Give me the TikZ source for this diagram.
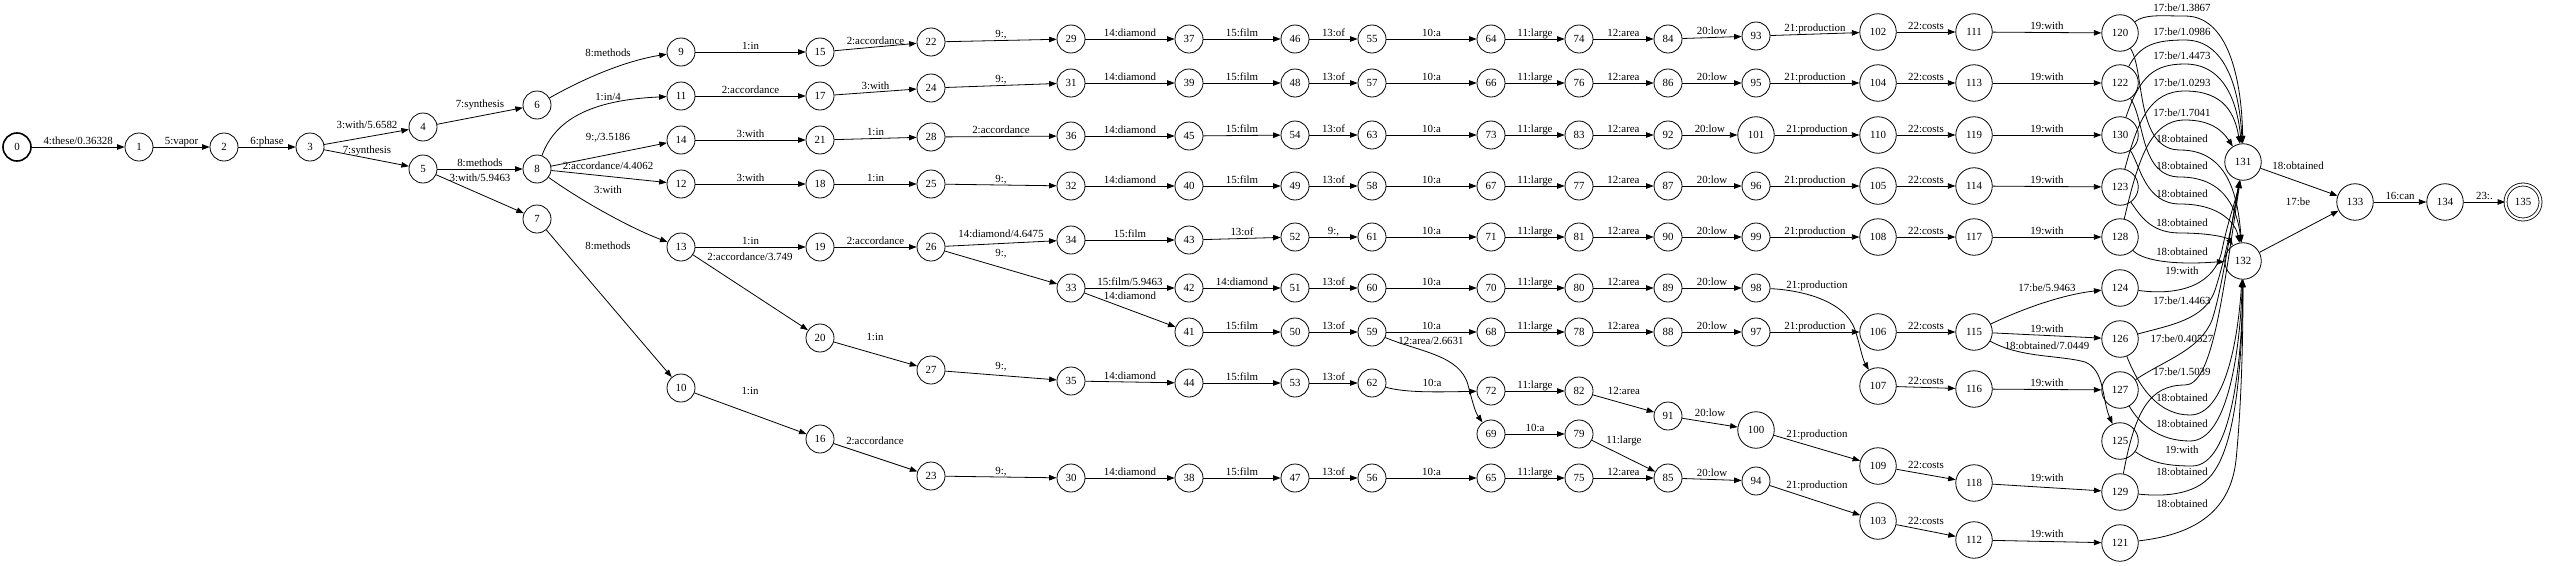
\documentclass[tikz,border=0pt]{standalone}
\usepackage{fontspec}
\setmainfont{Liberation Serif}
\usetikzlibrary{arrows.meta}
\newcommand{\lblfont}{\fontsize{10.9pt}{12pt}\selectfont}
\begin{document}
\begin{tikzpicture}[x=1pt,y=-1pt,
 st/.style={circle,draw,line width=0.8pt,minimum size=28pt,inner sep=0pt,font=\lblfont},
 stw/.style={st,minimum size=36.5pt},
 e/.style={draw,line width=0.8pt,-{Triangle[length=7.5pt,width=5.5pt]}},
 lab/.style={font=\lblfont,inner sep=0.6pt,text height=7.5pt,text depth=2pt},
 ml/.style={lab,midway,above}]
\useasboundingbox (0,0) rectangle (2550,565);
% ---------------- nodes
\node[st,line width=1.6pt] (n0) at (17,147) {0};
\node[st] (n1) at (139,147) {1};
\node[st] (n2) at (224,147) {2};
\node[st] (n3) at (310,147) {3};
\node[st] (n4) at (423,127) {4};
\node[st] (n5) at (423,169) {5};
\node[st] (n6) at (537,105) {6};
\node[st] (n8) at (537,169) {8};
\node[st] (n7) at (537,219) {7};
\node[st] (n9) at (681,52) {9};
\node[st] (n11) at (681,96) {11};
\node[st] (n14) at (681,140) {14};
\node[st] (n12) at (681,184) {12};
\node[st] (n13) at (681,247) {13};
\node[st] (n10) at (681,388) {10};
\node[st] (n15) at (820,52) {15};
\node[st] (n17) at (820,96) {17};
\node[st] (n21) at (820,140) {21};
\node[st] (n18) at (820,184) {18};
\node[st] (n19) at (820,247) {19};
\node[st] (n20) at (820,338) {20};
\node[st] (n16) at (820,439) {16};
\node[st] (n22) at (931,42) {22};
\node[st] (n24) at (931,88) {24};
\node[st] (n28) at (931,137) {28};
\node[st] (n25) at (931,184) {25};
\node[st] (n26) at (931,247) {26};
\node[st] (n27) at (931,370) {27};
\node[st] (n23) at (931,476) {23};
\node[st] (n29) at (1071,39) {29};
\node[st] (n31) at (1071,83) {31};
\node[st] (n36) at (1071,136) {36};
\node[st] (n32) at (1071,186) {32};
\node[st] (n34) at (1071,240) {34};
\node[st] (n33) at (1071,288) {33};
\node[st] (n35) at (1071,381) {35};
\node[st] (n30) at (1071,478) {30};
\node[st] (n37) at (1189,39) {37};
\node[st] (n39) at (1189,83) {39};
\node[st] (n45) at (1189,136) {45};
\node[st] (n40) at (1189,186) {40};
\node[st] (n43) at (1189,240) {43};
\node[st] (n42) at (1189,288) {42};
\node[st] (n41) at (1189,332) {41};
\node[st] (n44) at (1189,383) {44};
\node[st] (n38) at (1189,478) {38};
\node[st] (n46) at (1295,39) {46};
\node[st] (n48) at (1295,83) {48};
\node[st] (n54) at (1295,135) {54};
\node[st] (n49) at (1295,186) {49};
\node[st] (n52) at (1295,237) {52};
\node[st] (n51) at (1295,288) {51};
\node[st] (n50) at (1295,332) {50};
\node[st] (n53) at (1295,383) {53};
\node[st] (n47) at (1295,478) {47};
\node[st] (n55) at (1372,39) {55};
\node[st] (n57) at (1372,83) {57};
\node[st] (n63) at (1372,135) {63};
\node[st] (n58) at (1372,186) {58};
\node[st] (n61) at (1372,237) {61};
\node[st] (n60) at (1372,288) {60};
\node[st] (n59) at (1372,332) {59};
\node[st] (n62) at (1372,383) {62};
\node[st] (n56) at (1372,478) {56};
\node[st] (n64) at (1491,39) {64};
\node[st] (n66) at (1491,83) {66};
\node[st] (n73) at (1491,135) {73};
\node[st] (n67) at (1491,186) {67};
\node[st] (n71) at (1491,237) {71};
\node[st] (n70) at (1491,288) {70};
\node[st] (n68) at (1491,332) {68};
\node[st] (n72) at (1491,391) {72};
\node[st] (n69) at (1491,434) {69};
\node[st] (n65) at (1491,478) {65};
\node[st] (n74) at (1579,39) {74};
\node[st] (n76) at (1579,83) {76};
\node[st] (n83) at (1579,135) {83};
\node[st] (n77) at (1579,186) {77};
\node[st] (n81) at (1579,237) {81};
\node[st] (n80) at (1579,288) {80};
\node[st] (n78) at (1579,332) {78};
\node[st] (n82) at (1579,391) {82};
\node[st] (n79) at (1579,434) {79};
\node[st] (n75) at (1579,478) {75};
\node[st] (n84) at (1668,39) {84};
\node[st] (n86) at (1668,83) {86};
\node[st] (n92) at (1668,135) {92};
\node[st] (n87) at (1668,186) {87};
\node[st] (n90) at (1668,237) {90};
\node[st] (n89) at (1668,288) {89};
\node[st] (n88) at (1668,332) {88};
\node[st] (n91) at (1668,416) {91};
\node[st] (n85) at (1668,478) {85};
\node[st] (n93) at (1756,36) {93};
\node[st] (n95) at (1756,83) {95};
\node[stw] (n101) at (1756,135) {101};
\node[st] (n96) at (1756,186) {96};
\node[st] (n99) at (1756,237) {99};
\node[st] (n98) at (1756,288) {98};
\node[st] (n97) at (1756,332) {97};
\node[stw] (n100) at (1756,430) {100};
\node[st] (n94) at (1756,481) {94};
\node[stw] (n102) at (1878,32) {102};
\node[stw] (n104) at (1878,83) {104};
\node[stw] (n110) at (1878,135) {110};
\node[stw] (n105) at (1878,186) {105};
\node[stw] (n108) at (1878,237) {108};
\node[stw] (n106) at (1878,332) {106};
\node[stw] (n107) at (1878,386) {107};
\node[stw] (n109) at (1878,466) {109};
\node[stw] (n103) at (1878,521) {103};
\node[stw] (n111) at (1974,32) {111};
\node[stw] (n113) at (1974,83) {113};
\node[stw] (n119) at (1974,135) {119};
\node[stw] (n114) at (1974,186) {114};
\node[stw] (n117) at (1974,237) {117};
\node[stw] (n115) at (1974,332) {115};
\node[stw] (n116) at (1974,389) {116};
\node[stw] (n118) at (1974,483) {118};
\node[stw] (n112) at (1974,540) {112};
\node[stw] (n120) at (2120,33) {120};
\node[stw] (n122) at (2120,83) {122};
\node[stw] (n130) at (2120,135) {130};
\node[stw] (n123) at (2120,187) {123};
\node[stw] (n128) at (2120,237) {128};
\node[stw] (n124) at (2120,288) {124};
\node[stw] (n126) at (2120,339) {126};
\node[stw] (n127) at (2120,390) {127};
\node[stw] (n125) at (2120,441) {125};
\node[stw] (n129) at (2120,492) {129};
\node[stw] (n121) at (2120,543) {121};
\node[stw] (n131) at (2243,162) {131};
\node[stw] (n132) at (2243,261) {132};
\node[stw] (n133) at (2355,202) {133};
\node[stw] (n134) at (2445,202) {134};
\node[st,minimum size=35pt,double,double distance=2.2pt] (n135) at (2523,202) {135};
% ---------------- left part
\draw[e] (n0) -- (n1) node[ml] {4:these/0.36328};
\draw[e] (n1) -- (n2) node[ml] {5:vapor};
\draw[e] (n2) -- (n3) node[ml] {6:phase};
\draw[e] (n3) -- (n4); \node[lab] (l34) at (367,126) {3:with/5.6582};
\draw[e] (n3) -- (n5); \node[lab] (l35) at (367,151) {7:synthesis};
\draw[e] (n4) -- (n6); \node[lab] (l46) at (480,105) {7:synthesis};
\draw[e] (n5) -- (n8) node[ml] {8:methods};
\draw[e] (n5) -- (n7); \node[lab] (l57) at (480,179) {3:with/5.9463};
\draw[e] (n6) .. controls (590,75) and (630,60) .. (n9); \node[lab] (l69) at (608,54) {8:methods};
\draw[e] (n8) .. controls (555,120) and (590,100) .. (n11); \node[lab] (l811) at (608,98) {1:in/4};
\draw[e] (n8) -- (n14); \node[lab] (l814) at (608,138) {9:,/3.5186};
\draw[e] (n8) -- (n12); \node[lab] (l812) at (608,167) {2:accordance/4.4062};
\draw[e] (n8) .. controls (580,200) and (630,228) .. (n13); \node[lab] (l813) at (608,191) {3:with};
\draw[e] (n7) -- (n10); \node[lab] (l710) at (608,247) {8:methods};
\draw[e] (n9) -- (n15) node[ml] {1:in};
\draw[e] (n11) -- (n17) node[ml] {2:accordance};
\draw[e] (n14) -- (n21) node[ml] {3:with};
\draw[e] (n12) -- (n18) node[ml] {3:with};
\draw[e] (n13) -- (n19) node[ml] {1:in};
\draw[e] (n13) -- (n20); \node[lab] (l1320) at (750,258) {2:accordance/3.749};
\draw[e] (n10) -- (n16); \node[lab] (l1016) at (750,392) {1:in};
\draw[e] (n15) -- (n22) node[ml] {2:accordance};
\draw[e] (n17) -- (n24) node[ml] {3:with};
\draw[e] (n21) -- (n28) node[ml] {1:in};
\draw[e] (n18) -- (n25) node[ml] {1:in};
\draw[e] (n19) -- (n26) node[ml] {2:accordance};
\draw[e] (n20) -- (n27); \node[lab] (l2027) at (875,338) {1:in};
\draw[e] (n16) -- (n23); \node[lab] (l1623) at (875,442) {2:accordance};
\draw[e] (n22) -- (n29) node[ml] {9:,};
\draw[e] (n24) -- (n31) node[ml] {9:,};
\draw[e] (n28) -- (n36) node[ml] {2:accordance};
\draw[e] (n25) -- (n32) node[ml] {9:,};
\draw[e] (n26) -- (n34); \node[lab] (l2634) at (1001,235) {14:diamond/4.6475};
\draw[e] (n26) -- (n33); \node[lab] (l2633) at (1001,254) {9:,};
\draw[e] (n27) -- (n35); \node[lab] (l2735) at (1001,367) {9:,};
\draw[e] (n23) -- (n30) node[ml] {9:,};
\draw[e] (n29) -- (n37) node[ml] {14:diamond};
\draw[e] (n31) -- (n39) node[ml] {14:diamond};
\draw[e] (n36) -- (n45) node[ml] {14:diamond};
\draw[e] (n32) -- (n40) node[ml] {14:diamond};
\draw[e] (n34) -- (n43) node[ml] {15:film};
\draw[e] (n33) -- (n42) node[ml] {15:film/5.9463};
\draw[e] (n33) -- (n41); \node[lab] (l3341) at (1130,297) {14:diamond};
\draw[e] (n35) -- (n44) node[ml] {14:diamond};
\draw[e] (n30) -- (n38) node[ml] {14:diamond};
% ---------------- middle part
\draw[e] (n37) -- (n46) node[ml] {15:film};
\draw[e] (n39) -- (n48) node[ml] {15:film};
\draw[e] (n45) -- (n54) node[ml] {15:film};
\draw[e] (n40) -- (n49) node[ml] {15:film};
\draw[e] (n43) -- (n52) node[ml] {13:of};
\draw[e] (n42) -- (n51) node[ml] {14:diamond};
\draw[e] (n41) -- (n50) node[ml] {15:film};
\draw[e] (n44) -- (n53) node[ml] {15:film};
\draw[e] (n38) -- (n47) node[ml] {15:film};
\draw[e] (n46) -- (n55) node[ml] {13:of};
\draw[e] (n48) -- (n57) node[ml] {13:of};
\draw[e] (n54) -- (n63) node[ml] {13:of};
\draw[e] (n49) -- (n58) node[ml] {13:of};
\draw[e] (n52) -- (n61) node[ml] {9:,};
\draw[e] (n51) -- (n60) node[ml] {13:of};
\draw[e] (n50) -- (n59) node[ml] {13:of};
\draw[e] (n53) -- (n62) node[ml] {13:of};
\draw[e] (n47) -- (n56) node[ml] {13:of};
\draw[e] (n55) -- (n64) node[ml] {10:a};
\draw[e] (n57) -- (n66) node[ml] {10:a};
\draw[e] (n63) -- (n73) node[ml] {10:a};
\draw[e] (n58) -- (n67) node[ml] {10:a};
\draw[e] (n61) -- (n71) node[ml] {10:a};
\draw[e] (n60) -- (n70) node[ml] {10:a};
\draw[e] (n59) -- (n68) node[ml] {10:a};
\draw[e] (n59) .. controls (1420,352) and (1460,355) .. (1468,385) .. controls (1472,400) and (1475,412) .. (n69);
\node[lab] (l5969) at (1431,342) {12:area/2.6631};
\draw[e] (n62) .. controls (1405,393) and (1440,392) .. (n72); \node[lab] (l6272) at (1432,384) {10:a};
\draw[e] (n56) -- (n65) node[ml] {10:a};
\draw[e] (n64) -- (n74) node[ml] {11:large};
\draw[e] (n66) -- (n76) node[ml] {11:large};
\draw[e] (n73) -- (n83) node[ml] {11:large};
\draw[e] (n67) -- (n77) node[ml] {11:large};
\draw[e] (n71) -- (n81) node[ml] {11:large};
\draw[e] (n70) -- (n80) node[ml] {11:large};
\draw[e] (n68) -- (n78) node[ml] {11:large};
\draw[e] (n72) -- (n82) node[ml] {11:large};
\draw[e] (n69) -- (n79) node[ml] {10:a};
\draw[e] (n65) -- (n75) node[ml] {11:large};
\draw[e] (n74) -- (n84) node[ml] {12:area};
\draw[e] (n76) -- (n86) node[ml] {12:area};
\draw[e] (n83) -- (n92) node[ml] {12:area};
\draw[e] (n77) -- (n87) node[ml] {12:area};
\draw[e] (n81) -- (n90) node[ml] {12:area};
\draw[e] (n80) -- (n89) node[ml] {12:area};
\draw[e] (n78) -- (n88) node[ml] {12:area};
\draw[e] (n82) -- (n91); \node[lab] (l8291) at (1624,392) {12:area};
\draw[e] (n79) -- (n85); \node[lab] (l7985) at (1624,441) {11:large};
\draw[e] (n75) -- (n85) node[ml] {12:area};
% ---------------- right part
\draw[e] (n84) -- (n93) node[ml] {20:low};
\draw[e] (n86) -- (n95) node[ml] {20:low};
\draw[e] (n92) -- (n101) node[ml] {20:low};
\draw[e] (n87) -- (n96) node[ml] {20:low};
\draw[e] (n90) -- (n99) node[ml] {20:low};
\draw[e] (n89) -- (n98) node[ml] {20:low};
\draw[e] (n88) -- (n97) node[ml] {20:low};
\draw[e] (n91) -- (n100); \node[lab] (l91100) at (1710,414) {20:low};
\draw[e] (n85) -- (n94) node[ml] {20:low};
\draw[e] (n93) -- (n102) node[ml] {21:production};
\draw[e] (n95) -- (n104) node[ml] {21:production};
\draw[e] (n101) -- (n110) node[ml] {21:production};
\draw[e] (n96) -- (n105) node[ml] {21:production};
\draw[e] (n99) -- (n108) node[ml] {21:production};
\draw[e] (n98) .. controls (1800,290) and (1845,300) .. (1855,330) .. controls (1860,345) and (1862,358) .. (n107);
\node[lab] (l98107) at (1817,286) {21:production};
\draw[e] (n97) -- (n106) node[ml] {21:production};
\draw[e] (n100) -- (n109); \node[lab] (l100109) at (1817,435) {21:production};
\draw[e] (n94) -- (n103); \node[lab] (l94103) at (1817,486) {21:production};
\draw[e] (n102) -- (n111) node[ml] {22:costs};
\draw[e] (n104) -- (n113) node[ml] {22:costs};
\draw[e] (n110) -- (n119) node[ml] {22:costs};
\draw[e] (n105) -- (n114) node[ml] {22:costs};
\draw[e] (n108) -- (n117) node[ml] {22:costs};
\draw[e] (n106) -- (n115) node[ml] {22:costs};
\draw[e] (n107) -- (n116) node[ml] {22:costs};
\draw[e] (n109) -- (n118); \node[lab] (l109118) at (1926,466) {22:costs};
\draw[e] (n103) -- (n112); \node[lab] (l103112) at (1926,522) {22:costs};
\draw[e] (n111) -- (n120) node[ml] {19:with};
\draw[e] (n113) -- (n122) node[ml] {19:with};
\draw[e] (n119) -- (n130) node[ml] {19:with};
\draw[e] (n114) -- (n123) node[ml] {19:with};
\draw[e] (n117) -- (n128) node[ml] {19:with};
\draw[e] (n115) .. controls (2020,310) and (2060,295) .. (n124); \node[lab] (l115124) at (2047,289) {17:be/5.9463};
\draw[e] (n115) -- (n126) node[ml] {19:with};
\draw[e] (n115) .. controls (2020,358) and (2060,355) .. (2085,362) .. controls (2105,370) and (2102,400) .. (n125);
\node[lab] (l115125) at (2047,347) {18:obtained/7.0449};
\draw[e] (n116) -- (n127) node[ml] {19:with};
\draw[e] (n118) -- (n129); \node[lab] (l118129) at (2047,479) {19:with};
\draw[e] (n112) -- (n121); \node[lab] (l112121) at (2047,535) {19:with};
% ---------------- into 131 from above
\draw[e] (n120) .. controls (2145,14) and (2160,16) .. (2185,16) .. controls (2232,16) and (2242,90) .. (n131);
\draw[e] (n122) .. controls (2140,45) and (2155,40) .. (2185,40) .. controls (2230,40) and (2240,100) .. (n131);
\draw[e] (n130) .. controls (2140,75) and (2155,64) .. (2185,64) .. controls (2228,64) and (2238,110) .. (n131);
\draw[e] (n123) .. controls (2138,120) and (2150,91) .. (2185,91) .. controls (2225,91) and (2235,115) .. (n131);
\draw[e] (n128) .. controls (2138,160) and (2150,120) .. (2185,120) .. controls (2210,120) and (2222,130) .. (n131);
\node[lab] (lb1) at (2182,9) {17:be/1.3867};
\node[lab] (lb2) at (2182,33) {17:be/1.0986};
\node[lab] (lb3) at (2182,57) {17:be/1.4473};
\node[lab] (lb4) at (2182,84) {17:be/1.0293};
\node[lab] (lb5) at (2182,114) {17:be/1.7041};
% ---------------- into 132 from above
\draw[e] (n120) .. controls (2145,70) and (2135,150) .. (2180,150) .. controls (2230,150) and (2238,200) .. (n132);
\draw[e] (n122) .. controls (2145,120) and (2140,177) .. (2180,177) .. controls (2228,177) and (2238,215) .. (n132);
\draw[e] (n130) .. controls (2140,165) and (2145,204) .. (2180,204) .. controls (2222,204) and (2236,225) .. (n132);
\draw[e] (n123) .. controls (2140,215) and (2150,233) .. (2180,233) .. controls (2212,233) and (2228,238) .. (n132);
\draw[e] (n128) .. controls (2140,258) and (2160,263) .. (2190,263) .. controls (2205,263) and (2215,262) .. (n132);
\node[lab] (lo1) at (2182,140) {18:obtained};
\node[lab] (lo2) at (2182,167) {18:obtained};
\node[lab] (lo3) at (2182,195) {18:obtained};
\node[lab] (lo4) at (2182,224) {18:obtained};
\node[lab] (lo5) at (2182,253) {18:obtained};
% ---------------- into 131 from below
\draw[e] (n124) .. controls (2180,296) and (2215,285) .. (2222,250) .. controls (2228,220) and (2236,200) .. (n131);
\draw[e] (n126) .. controls (2170,325) and (2205,320) .. (2215,290) .. controls (2225,260) and (2235,210) .. (n131);
\draw[e] (n127) .. controls (2165,360) and (2200,350) .. (2212,320) .. controls (2222,290) and (2232,220) .. (n131);
\draw[e] (n129) .. controls (2135,410) and (2150,385) .. (2185,385) .. controls (2212,385) and (2222,300) .. (n131);
\node[lab] (lw1) at (2182,272) {19:with};
\node[lab] (lb6) at (2182,302) {17:be/1.4463};
\node[lab] (lb7) at (2182,340) {17:be/0.40527};
\node[lab] (lb8) at (2182,373) {17:be/1.5039};
% ---------------- into 132 from below
\draw[e] (n126) .. controls (2140,390) and (2160,415) .. (2190,415) .. controls (2225,415) and (2238,340) .. (n132);
\draw[e] (n127) .. controls (2140,425) and (2160,441) .. (2190,441) .. controls (2228,441) and (2240,350) .. (n132);
\draw[e] (n125) .. controls (2150,462) and (2165,466) .. (2192,466) .. controls (2232,466) and (2242,360) .. (n132);
\draw[e] (n129) .. controls (2165,497) and (2200,495) .. (2215,470) .. controls (2235,440) and (2242,370) .. (n132);
\draw[e] (n121) .. controls (2190,535) and (2230,515) .. (2236,460) .. controls (2240,420) and (2243,360) .. (n132);
\node[lab] (lo6) at (2182,399) {18:obtained};
\node[lab] (lo7) at (2182,425) {18:obtained};
\node[lab] (lw2) at (2182,451) {19:with};
\node[lab] (lo8) at (2182,473) {18:obtained};
\node[lab] (lo9) at (2182,505) {18:obtained};
% ---------------- final
\draw[e] (n131) -- (n133); \node[lab] (l131133) at (2298,167) {18:obtained};
\draw[e] (n132) -- (n133); \node[lab] (l132133) at (2298,203) {17:be};
\draw[e] (n133) -- (n134) node[ml] {16:can};
\draw[e] (n134) -- (n135) node[ml] {23:.};
\end{tikzpicture}
\end{document}
